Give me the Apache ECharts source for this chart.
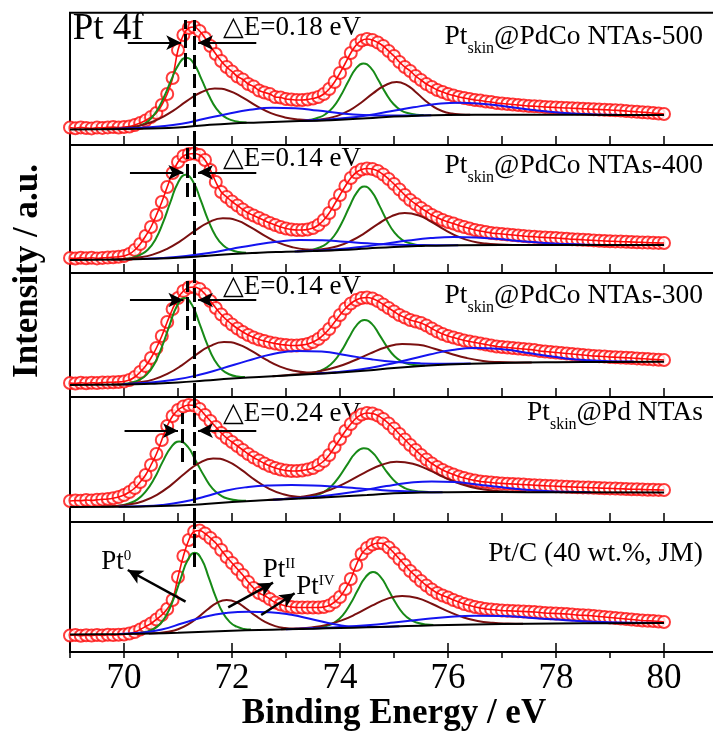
<!DOCTYPE html>
<html>
<head>
<meta charset="utf-8">
<script src="https://cdn.jsdelivr.net/npm/echarts@6/dist/echarts.min.js"></script>
<style>
html,body{margin:0;padding:0;background:#fff;}
#chart{width:713px;height:733px;}
</style>
</head>
<body>
<div id="chart"></div>
<script>
// Binding energy of every measured point (eV)
const energy = [
 69.0,69.1,69.2,69.3,69.4,69.5,69.6,69.7,69.8,69.9,
 70.0,70.1,70.2,70.3,70.4,70.5,70.6,70.7,70.8,70.9,
 71.0,71.1,71.2,71.3,71.4,71.5,71.6,71.7,71.8,71.9,
 72.0,72.1,72.2,72.3,72.4,72.5,72.6,72.7,72.8,72.9,
 73.0,73.1,73.2,73.3,73.4,73.5,73.6,73.7,73.8,73.9,
 74.0,74.1,74.2,74.3,74.4,74.5,74.6,74.7,74.8,74.9,
 75.0,75.1,75.2,75.3,75.4,75.5,75.6,75.7,75.8,75.9,
 76.0,76.1,76.2,76.3,76.4,76.5,76.6,76.7,76.8,76.9,
 77.0,77.1,77.2,77.3,77.4,77.5,77.6,77.7,77.8,77.9,
 78.0,78.1,78.2,78.3,78.4,78.5,78.6,78.7,78.8,78.9,
 79.0,79.1,79.2,79.3,79.4,79.5,79.6,79.7,79.8,79.9,
 80.0];

// Measured Pt 4f intensity (a.u., offset per panel)
const counts500 = [
 17.5,16.8,17.6,17.0,16.6,17.4,17.1,17.6,17.9,17.5,
 18.0,18.5,20.0,22.0,24.5,28.0,32.0,40.0,51.0,67.0,
 95.0,110.0,117.0,118.0,114.0,107.0,99.0,91.0,84.0,78.0,
 73.5,68.5,65.5,61.0,58.5,54.5,52.5,51.0,48.0,47.5,
 46.0,45.5,45.0,45.0,45.5,46.5,48.0,51.0,56.0,63.0,
 72.0,82.0,92.0,100.0,104.5,106.0,105.0,102.5,99.0,94.0,
 89.0,83.0,78.0,74.0,69.0,65.0,61.0,58.0,55.0,53.0,
 51.0,49.5,48.0,47.0,46.0,45.0,44.5,43.5,43.0,42.0,
 41.5,41.0,40.5,40.0,39.5,39.0,38.8,38.5,38.0,37.8,
 37.5,37.2,37.0,36.8,36.5,36.2,36.0,35.7,35.5,35.2,
 35.0,34.7,34.4,34.0,33.6,33.2,32.8,32.4,32.0,31.5,
 31.0];
const counts400 = [
 15.0,14.5,15.2,14.8,15.3,14.6,15.1,15.4,15.8,16.2,
 17.0,19.0,23.0,29.0,37.0,46.0,58.0,71.0,86.0,100.0,
 111.0,117.0,119.0,119.5,118.0,113.0,103.0,91.0,81.0,76.0,
 71.5,67.5,63.5,60.0,57.5,55.0,52.5,50.0,48.0,46.0,
 44.5,43.5,43.0,43.0,43.5,45.0,48.0,53.0,60.0,69.0,
 78.0,87.0,95.0,100.5,103.5,104.5,104.0,102.0,98.5,94.0,
 89.0,83.5,78.0,73.0,69.0,65.0,61.5,58.0,55.5,53.0,
 51.0,49.5,47.5,46.0,44.5,43.0,42.0,41.0,40.0,39.5,
 39.0,38.5,38.0,37.5,37.0,36.5,36.2,35.8,35.5,35.2,
 35.0,34.6,34.2,33.8,33.5,33.2,32.9,32.6,32.3,32.0,
 31.8,31.6,31.4,31.2,31.0,30.8,30.6,30.4,30.2,30.1,
 30.0];
const counts300 = [
 14.0,13.5,14.2,13.8,14.3,13.9,14.4,14.6,14.8,15.0,
 15.5,17.0,20.0,25.0,31.0,39.0,49.0,61.0,75.0,88.0,
 99.0,106.0,109.5,110.0,108.0,103.0,96.0,89.0,82.5,77.0,
 72.5,68.5,65.0,62.0,59.5,57.5,56.0,54.5,53.5,52.5,
 52.0,51.5,51.5,52.0,53.0,55.0,58.0,62.5,68.0,75.0,
 82.0,88.5,93.5,97.0,99.0,99.5,98.5,96.0,92.5,89.0,
 85.5,82.0,79.5,77.0,75.5,74.0,71.5,68.5,65.5,63.0,
 61.0,59.5,58.0,56.5,55.5,54.5,53.5,52.5,51.5,50.5,
 50.0,49.5,49.0,48.5,48.0,47.5,47.0,46.0,45.5,45.0,
 44.5,44.0,43.5,43.0,42.5,42.0,41.5,41.0,40.8,40.5,
 40.0,39.8,39.5,39.2,39.0,38.6,38.3,38.0,37.6,37.3,
 37.0];
const countsPd = [
 21.0,21.5,21.2,22.0,21.6,22.2,22.6,23.0,23.8,25.0,
 27.0,30.0,34.0,40.0,47.0,57.0,68.0,82.0,96.0,106.0,
 112.0,115.5,117.0,116.5,113.0,107.0,101.0,95.0,89.0,84.0,
 80.0,76.0,72.0,68.0,64.5,61.5,58.5,56.0,54.0,52.5,
 51.5,51.0,51.0,51.5,52.5,54.0,57.0,61.0,67.0,75.0,
 83.0,91.0,98.0,104.0,107.5,109.0,108.5,106.5,103.0,98.5,
 93.5,88.0,82.5,77.0,72.0,67.0,62.5,58.5,55.0,52.0,
 49.5,47.5,45.5,44.0,42.5,41.5,40.5,40.0,39.5,39.0,
 38.6,38.3,38.0,37.7,37.4,37.1,36.8,36.5,36.2,36.0,
 35.8,35.5,35.3,35.0,34.8,34.6,34.4,34.2,34.0,33.8,
 33.6,33.4,33.2,33.0,32.8,32.7,32.5,32.3,32.2,32.1,
 32.0];
const countsPtC = [
 16.5,17.0,16.2,16.8,16.4,17.0,16.6,17.2,16.9,17.3,
 17.5,18.5,20.0,22.5,25.5,28.5,32.5,37.0,43.0,52.0,
 75.0,96.0,112.0,120.5,121.5,118.5,114.0,109.0,102.0,95.0,
 89.0,83.0,77.0,70.0,64.0,59.0,56.5,53.0,49.5,47.5,
 46.0,45.0,44.5,44.5,44.5,44.5,44.5,45.0,46.5,50.0,
 55.0,63.0,73.0,87.0,98.0,104.0,107.5,109.0,108.5,104.5,
 99.0,93.0,87.0,81.0,76.0,71.0,66.5,62.5,59.0,56.5,
 54.5,52.0,50.0,48.0,46.5,45.0,44.0,43.0,42.5,42.0,
 41.5,41.2,41.0,40.7,40.5,40.2,40.0,39.5,39.0,38.7,
 38.5,38.2,38.0,37.5,37.0,36.7,36.5,36.0,35.5,35.0,
 34.5,34.0,33.5,33.0,32.5,32.0,31.5,31.2,31.0,30.5,
 30.0];

// Fitted components, [energy, intensity]: Pt0 (a: 4f7/2, b: 4f5/2), PtII, PtIV and the background
const bg500 = [[69,15.5],[69.5,15.8],[70,16],[70.5,16.6],[71,17.6],[71.5,19.8],[72,21.5],[72.5,22.5],[73,23.5],[73.5,24.3],[74,25.3],[74.5,26.8],[75,28.4],[75.5,29.4],[76,29.9],[77,30.2],[78,30.2],[79,30.1],[80,30]];
const pt0a500 = [[70.03,16.6],[70.17,17.6],[70.31,19.8],[70.45,24.1],[70.59,32.6],[70.73,46.7],[70.87,64.3],[71.01,80.4],[71.15,87.3],[71.29,81.7],[71.43,66.4],[71.57,49.7],[71.71,36.4],[71.85,28.6],[71.99,24.9],[72.13,23.1],[72.27,22.6]];
const pt0b500 = [[73.31,24.4],[73.45,25.3],[73.59,27.2],[73.73,30.8],[73.87,37.7],[74.01,49.0],[74.15,63.2],[74.29,76.2],[74.43,81.6],[74.57,77.1],[74.71,64.9],[74.85,51.6],[74.99,41.0],[75.13,34.7],[75.27,31.7],[75.41,30.3],[75.55,29.9]];
const pt2a500 = [[69.6,16.0],[69.86,16.4],[70.12,17.7],[70.38,20.6],[70.64,25.9],[70.9,33.9],[71.16,43.8],[71.42,52.5],[71.68,56.4],[71.94,54.3],[72.2,47.4],[72.46,38.9],[72.72,31.9],[72.98,27.6],[73.24,25.5],[73.5,24.8],[73.76,25.0]];
const pt2b500 = [[73.29,24.1],[73.51,24.8],[73.73,26.3],[73.95,29.1],[74.17,34.4],[74.39,42.3],[74.61,51.6],[74.83,59.5],[75.05,63.0],[75.22,60.4],[75.39,53.6],[75.56,45.3],[75.73,38.3],[75.9,33.7],[76.07,31.4],[76.24,30.5],[76.41,30.2]];
const pt4a500 = [[69.81,16.1],[70.23,16.9],[70.65,18.5],[71.07,21.3],[71.49,26.2],[71.91,31.1],[72.33,35.2],[72.75,37.2],[73.17,36.8],[73.59,34.4],[74.01,31.7],[74.43,30.0],[74.85,29.5],[75.27,29.5],[75.69,29.8]];
const pt4b500 = [[73.26,24.1],[73.68,25.2],[74.1,26.9],[74.52,29.8],[74.94,33.8],[75.36,37.7],[75.78,40.9],[76.2,42.3],[76.62,41.3],[77.04,38.8],[77.46,35.7],[77.88,33.2],[78.3,31.5],[78.72,30.6],[79.14,30.3]];

const bg400 = [[69,13],[70,13.5],[70.5,14.2],[71,15.2],[71.5,17],[72,19],[72.5,20.3],[73,21.2],[73.5,22],[74,23],[74.5,24.5],[75,26],[75.5,27],[76,27.6],[77,28],[78,28],[80,28]];
const pt0a400 = [[70.02,14.2],[70.16,15.4],[70.3,18.1],[70.44,23.2],[70.58,33.3],[70.72,50.1],[70.86,71.0],[71.0,90.3],[71.14,98.2],[71.28,91.3],[71.42,72.8],[71.56,52.7],[71.7,36.8],[71.84,27.4],[71.98,23.1],[72.12,21.0],[72.26,20.3]];
const pt0b400 = [[73.33,22.2],[73.47,23.2],[73.61,25.3],[73.75,29.3],[73.89,37.0],[74.03,49.8],[74.17,65.7],[74.31,80.4],[74.45,86.4],[74.59,81.2],[74.73,67.4],[74.87,52.3],[75.01,40.3],[75.15,33.1],[75.29,29.7],[75.43,28.1],[75.57,27.6]];
const pt2a400 = [[69.75,13.5],[70.01,14.0],[70.27,15.5],[70.53,18.4],[70.79,23.9],[71.05,32.1],[71.31,42.1],[71.57,50.7],[71.83,54.7],[72.09,52.6],[72.35,45.6],[72.61,37.2],[72.87,30.1],[73.13,25.6],[73.39,23.4],[73.65,22.8],[73.91,23.0]];
const pt2b400 = [[73.2,21.7],[73.45,22.4],[73.7,23.9],[73.95,26.7],[74.2,32.0],[74.45,39.7],[74.7,48.9],[74.95,56.7],[75.2,60.0],[75.45,57.7],[75.7,51.0],[75.95,42.9],[76.2,36.1],[76.45,31.6],[76.7,29.4],[76.95,28.5],[77.2,28.1]];
const pt4a400 = [[70.31,14.1],[70.73,15.1],[71.15,17.0],[71.57,20.0],[71.99,24.1],[72.41,28.1],[72.83,31.3],[73.25,33.0],[73.67,32.8],[74.09,31.3],[74.51,29.7],[74.93,28.5],[75.35,28.0],[75.77,27.8],[76.19,27.8]];
const pt4b400 = [[73.16,21.6],[73.58,22.5],[74.0,23.9],[74.42,26.3],[74.84,29.3],[75.26,32.4],[75.68,34.9],[76.1,36.0],[76.52,35.5],[76.94,33.9],[77.36,31.8],[77.78,30.0],[78.2,28.9],[78.62,28.3],[79.04,28.1]];

const bg300 = [[69,12],[70,12.5],[70.5,13.3],[71,14.5],[71.5,16.5],[72,18.5],[72.5,20],[73,21.5],[73.5,23],[74,24.5],[74.5,26.5],[75,29],[75.5,31],[76,32.5],[77,34],[78,34.8],[79,35.1],[80,35.3]];
const pt0a300 = [[70.0,13.2],[70.14,14.4],[70.28,17.2],[70.42,22.4],[70.56,32.8],[70.7,49.9],[70.84,71.2],[70.98,90.9],[71.12,99.0],[71.26,92.0],[71.4,73.2],[71.54,52.8],[71.68,36.5],[71.82,27.0],[71.96,22.5],[72.1,20.5],[72.24,19.9]];
const pt0b300 = [[73.33,22.9],[73.47,23.9],[73.61,25.9],[73.75,29.3],[73.89,35.8],[74.03,46.4],[74.17,59.7],[74.31,71.9],[74.45,77.0],[74.59,73.1],[74.73,62.1],[74.87,50.2],[75.01,40.7],[75.15,35.2],[75.29,32.7],[75.43,31.7],[75.57,31.6]];
const pt2a300 = [[69.77,12.5],[70.03,13.1],[70.29,14.6],[70.55,17.6],[70.81,23.3],[71.07,31.7],[71.33,42.0],[71.59,50.8],[71.85,54.9],[72.11,52.8],[72.37,45.8],[72.63,37.3],[72.89,30.4],[73.15,26.2],[73.41,24.4],[73.67,24.0],[73.93,24.4]];
const pt2b300 = [[72.75,20.8],[73.05,22.0],[73.35,23.6],[73.65,26.1],[73.95,30.2],[74.25,36.2],[74.55,43.3],[74.85,49.7],[75.15,53.0],[75.45,52.3],[75.75,48.3],[76.05,43.3],[76.35,38.9],[76.65,36.1],[76.95,34.9],[77.25,34.5],[77.55,34.5]];
const pt4a300 = [[69.98,12.8],[70.44,14.2],[70.9,16.9],[71.36,21.7],[71.82,28.6],[72.28,36.1],[72.74,42.7],[73.2,46.1],[73.66,45.4],[74.12,41.8],[74.58,37.7],[75.04,34.9],[75.5,33.6],[75.96,33.3],[76.42,33.4]];
const pt4b300 = [[73.56,23.4],[73.98,25.1],[74.4,27.8],[74.82,31.9],[75.24,37.0],[75.66,42.5],[76.08,47.0],[76.5,49.0],[76.92,48.3],[77.34,45.3],[77.76,41.7],[78.18,38.6],[78.6,36.7],[79.02,35.7],[79.44,35.4]];

const bgPd = [[69,15],[70,15.3],[70.5,15.8],[71,16.5],[71.5,18],[72,20],[72.5,21.5],[73,22.8],[73.5,24],[74,25.5],[74.5,27],[75,28.7],[75.5,29.5],[76,29.8],[77,29.9],[78,29.8],[80,29.5]];
const pt0aPd = [[69.78,15.7],[69.94,16.6],[70.09,18.6],[70.25,22.6],[70.4,30.4],[70.56,43.4],[70.71,59.6],[70.87,74.6],[71.02,80.6],[71.18,75.3],[71.33,61.0],[71.49,45.5],[71.64,33.3],[71.8,26.2],[71.95,23.0],[72.11,21.6],[72.26,21.3]];
const pt0bPd = [[73.24,23.8],[73.39,24.7],[73.54,26.5],[73.69,29.7],[73.84,35.8],[73.99,45.7],[74.14,57.9],[74.29,69.1],[74.44,73.8],[74.59,70.1],[74.74,59.8],[74.89,48.5],[75.04,39.6],[75.19,34.2],[75.34,31.6],[75.49,30.4],[75.64,30.0]];
const pt2aPd = [[69.57,15.4],[69.83,15.9],[70.09,17.4],[70.35,20.8],[70.61,27.2],[70.87,36.9],[71.13,48.7],[71.39,58.9],[71.65,63.6],[71.91,60.9],[72.17,52.3],[72.43,41.9],[72.69,33.2],[72.95,27.8],[73.21,25.3],[73.47,24.6],[73.73,24.9]];
const pt2bPd = [[72.65,22.0],[72.95,23.1],[73.25,24.8],[73.55,27.7],[73.85,32.9],[74.15,40.4],[74.45,49.1],[74.75,56.7],[75.05,60.3],[75.35,58.2],[75.65,51.9],[75.95,44.2],[76.25,37.7],[76.55,33.5],[76.85,31.3],[77.15,30.3],[77.45,30.0]];
const pt4aPd = [[69.9,15.3],[70.3,15.7],[70.7,17.0],[71.1,20.2],[71.5,25.5],[71.9,31.5],[72.3,35.0],[72.7,36.6],[73.1,37.0],[73.5,36.6],[73.9,35.4],[74.3,33.8],[74.7,32.2],[75.1,30.9],[75.5,30.1],[75.9,29.8]];
const pt4bPd = [[72.76,22.3],[73.18,23.7],[73.6,25.5],[74.02,28.2],[74.44,31.8],[74.86,35.9],[75.28,39.2],[75.7,40.6],[76.12,39.9],[76.54,37.6],[76.96,34.9],[77.38,32.5],[77.8,31.0],[78.22,30.2],[78.64,29.8]];

const bgPtC = [[69,17.5],[70,18],[70.5,18.5],[71,19.2],[71.5,20.2],[72,21.2],[72.5,22],[73,22.7],[73.5,23.3],[74,24],[74.5,24.7],[75,25.5],[75.5,26.3],[76,27],[77,28],[78,28.5],[79,28.8],[80,29]];
const pt0aPtC = [[70.27,18.9],[70.4,20.0],[70.53,22.5],[70.66,27.5],[70.79,37.2],[70.92,53.3],[71.05,73.4],[71.18,91.9],[71.31,99.3],[71.44,92.4],[71.57,74.4],[71.7,54.8],[71.83,39.2],[71.96,29.9],[72.09,25.3],[72.22,23.1],[72.35,22.4]];
const pt0bPtC = [[73.49,23.7],[73.63,24.6],[73.77,26.4],[73.91,29.9],[74.05,36.7],[74.19,47.9],[74.33,61.9],[74.47,74.7],[74.61,79.9],[74.75,75.2],[74.89,62.7],[75.03,49.2],[75.17,38.4],[75.31,32.1],[75.45,29.0],[75.59,27.5],[75.73,27.1]];
const pt2aPtC = [[70.46,18.6],[70.64,19.1],[70.82,20.3],[71.0,22.7],[71.18,27.3],[71.36,34.1],[71.54,42.2],[71.72,49.1],[71.9,52.0],[72.08,49.8],[72.26,43.5],[72.44,36.1],[72.62,29.9],[72.8,25.9],[72.98,24.0],[73.16,23.3],[73.34,23.2]];
const pt2bPtC = [[72.91,22.7],[73.19,23.4],[73.47,24.6],[73.75,27.1],[74.03,31.6],[74.31,38.3],[74.59,46.3],[74.87,53.1],[75.15,56.0],[75.43,54.0],[75.71,48.0],[75.99,40.9],[76.27,34.9],[76.55,31.0],[76.83,29.2],[77.11,28.5],[77.39,28.3]];
const pt4aPtC = [[69.9,18.0],[70.3,19.2],[70.7,22.6],[71.1,29.0],[71.5,35.3],[71.9,39.0],[72.3,40.3],[72.7,39.8],[73.1,37.2],[73.5,32.5],[73.9,27.8],[74.3,25.2],[74.7,25.1],[75.1,25.7]];
const pt4bPtC = [[73.0,22.8],[73.5,23.7],[74.0,25.0],[74.5,26.8],[75.0,29.4],[75.5,32.4],[76.0,35.0],[76.5,36.2],[77.0,36.0],[77.5,34.3],[78.0,32.4],[78.5,30.7],[79.0,29.8],[79.5,29.3],[80.0,29.1]];

// Axis ticks of the energy scale
const energyMin = 69, energyMax = 81;
const labelledTicks = [70, 72, 74, 76, 78, 80];

// Pt0 4f7/2 of Pt/C and the shifts of the skin samples
const refPeak = 71.31;
const deltaE = [0.18, 0.14, 0.14, 0.24];

const FONT = '"Liberation Serif","Times New Roman",serif';
const RED = '#ff0a0a', GREEN = '#178a17', BROWN = '#7a1010', BLUE = '#1414f0', BLACK = '#000';

// Panel frames (top to bottom) and their intensity ranges
const frames = [
  {top: 12.7, height: 132.3},
  {top: 145, height: 128},
  {top: 273, height: 124},
  {top: 397, height: 125},
  {top: 522, height: 130}
];

const panels = [
  {counts: counts500, bg: bg500, pt0: [pt0a500, pt0b500], pt2: [pt2a500, pt2b500], pt4: [pt4a500, pt4b500]},
  {counts: counts400, bg: bg400, pt0: [pt0a400, pt0b400], pt2: [pt2a400, pt2b400], pt4: [pt4a400, pt4b400]},
  {counts: counts300, bg: bg300, pt0: [pt0a300, pt0b300], pt2: [pt2a300, pt2b300], pt4: [pt4a300, pt4b300]},
  {counts: countsPd,  bg: bgPd,  pt0: [pt0aPd,  pt0bPd],  pt2: [pt2aPd,  pt2bPd],  pt4: [pt4aPd,  pt4bPd]},
  {counts: countsPtC, bg: bgPtC, pt0: [pt0aPtC, pt0bPtC], pt2: [pt2aPtC, pt2bPtC], pt4: [pt4aPtC, pt4bPtC]}
];

// Guide lines: extent of the long dashed line per panel, the short one, and the arrow level
const longGuide  = [[0, 125], [0, 128], [0, 124], [0, 125], [85, 130]];
const shortGuide = [[78, 125], [76, 125], [67, 116], [60, 109]];
const arrowLevel = [102.3, 100.7, 97, 91.3];

// Oxidation-state pointers in the Pt/C panel: [tail, tip]
const statePointers = [
  [[71.14, 50.3], [70.07, 82]],
  [[71.93, 44.7], [72.76, 69.3]],
  [[72.54, 37.0], [73.16, 58.7]]
];

const chart = echarts.init(document.getElementById('chart'));

const grids = [], xAxes = [], yAxes = [], series = [];
frames.forEach((f, i) => {
  const last = i === frames.length - 1;
  // the energy axis runs on past the right edge of the page
  grids.push({left: 70, width: 648, top: f.top, height: f.height, show: true,
    outerBoundsMode: 'none', containLabel: false,
    borderColor: BLACK, borderWidth: 2, backgroundColor: 'transparent'});
  xAxes.push({
    gridIndex: i, type: 'value', min: energyMin, max: energyMax, interval: 1,
    axisLine: {show: true, onZero: false, lineStyle: {color: BLACK, width: 2}},
    axisTick: {show: true, inside: !last, length: last ? 6 : 9, lineStyle: {color: BLACK, width: 1.5}},
    axisLabel: last ? {show: true, margin: 9, color: BLACK, fontFamily: FONT, fontSize: 35,
      formatter: v => (labelledTicks.indexOf(v) >= 0 ? String(v) : '')} : {show: false},
    splitLine: {show: false},
    name: last ? 'Binding Energy / eV' : '',
    nameLocation: 'middle', nameGap: 43,
    nameTextStyle: {color: BLACK, fontFamily: FONT, fontSize: 35, fontWeight: 'bold'}
  });
  yAxes.push({gridIndex: i, type: 'value', min: 0, max: f.height, show: false});
});
// longer ticks under the labelled energies
xAxes.push({
  gridIndex: 4, type: 'value', min: energyMin, max: energyMax, interval: 1,
  axisLine: {show: false}, axisLabel: {show: false}, splitLine: {show: false},
  axisTick: {show: true, length: 9, customValues: labelledTicks, lineStyle: {color: BLACK, width: 1.5}}
});

function comp(i, data, color, z) {
  return {type: 'line', xAxisIndex: i, yAxisIndex: i, data: data, smooth: 0.5,
    showSymbol: false, silent: true, animation: false, z: z,
    lineStyle: {color: color, width: 2}, itemStyle: {color: color}};
}

panels.forEach((p, i) => {
  const pts = energy.map((e, k) => [e, p.counts[k]]);
  series.push({type: 'scatter', xAxisIndex: i, yAxisIndex: i, data: pts, symbol: 'emptyCircle',
    symbolSize: 12, silent: true, animation: false, z: 2,
    itemStyle: {color: RED, borderColor: RED, borderWidth: 1.9}});

  // arrows belong to the envelope series
  const arrows = [];
  if (i < 4) {
    const shifted = +(refPeak - deltaE[i]).toFixed(2);
    arrows.push([{coord: [shifted - 1.06, arrowLevel[i]]}, {coord: [shifted - 0.07, arrowLevel[i]]}]);
    arrows.push([{coord: [72.45, arrowLevel[i]]}, {coord: [refPeak + 0.06, arrowLevel[i]]}]);
  } else {
    statePointers.forEach(sp => arrows.push([{coord: sp[0]}, {coord: sp[1]}]));
  }
  series.push({type: 'line', xAxisIndex: i, yAxisIndex: i, data: pts, smooth: 0.4,
    showSymbol: false, silent: true, animation: false, z: 3,
    lineStyle: {color: RED, width: 1.6}, itemStyle: {color: RED},
    markLine: {silent: true, animation: false, symbol: ['none', 'arrow'], symbolSize: [11, 15],
      label: {show: false}, lineStyle: {color: BLACK, width: i < 4 ? 2 : 2.5, type: 'solid'},
      emphasis: {disabled: true}, data: arrows}});

  p.pt0.forEach(d => series.push(comp(i, d, GREEN, 4)));
  p.pt2.forEach(d => series.push(comp(i, d, BROWN, 4)));
  p.pt4.forEach(d => series.push(comp(i, d, BLUE, 4)));

  const guides = [[{coord: [refPeak, longGuide[i][0]]}, {coord: [refPeak, longGuide[i][1]]}]];
  if (i < 4) {
    const shifted = +(refPeak - deltaE[i]).toFixed(2);
    guides.push([{coord: [shifted, shortGuide[i][0]]}, {coord: [shifted, shortGuide[i][1]]}]);
  }
  const bgSeries = comp(i, p.bg, BLACK, 5);
  bgSeries.markLine = {silent: true, animation: false, symbol: ['none', 'none'], label: {show: false},
    lineStyle: {color: BLACK, width: 3, type: [14, 5]}, emphasis: {disabled: true}, data: guides};
  series.push(bgSeries);
});

chart.setOption({
  animation: false,
  backgroundColor: '#fff',
  grid: grids, xAxis: xAxes, yAxis: yAxes, series: series
});

// ---- text annotations, anchored in data coordinates ----
const sampleNames = [
  '{m|Pt}{s|skin}{m|@PdCo NTAs-500}',
  '{m|Pt}{s|skin}{m|@PdCo NTAs-400}',
  '{m|Pt}{s|skin}{m|@PdCo NTAs-300}',
  '{m|Pt}{s|skin}{m|@Pd NTAs}',
  '{m|Pt/C (40 wt.%, JM)}'
];
const nameBaseline = [100, 99.7, 93.7, 101, 90.3];
const deltaBaseline = [108.3, 104.7, 101, 99.3];
const stateLabels = [
  {text: '{m|Pt}{u|0}', at: [69.58, 82]},
  {text: '{m|Pt}{u|II}', at: [72.57, 74]},
  {text: '{m|Pt}{u|IV}', at: [73.19, 57]}
];

const px = (i, e, v) => chart.convertToPixel({gridIndex: i}, [e, v]);
const graphics = [];

const richName = {
  m: {font: '27.5px ' + FONT, fill: BLACK, verticalAlign: 'top'},
  s: {font: '16px ' + FONT, fill: BLACK, verticalAlign: 'top', padding: [18, 0, 0, 0]}
};
sampleNames.forEach((t, i) => {
  const p = px(i, 80.72, nameBaseline[i]);
  graphics.push({type: 'text', silent: true, x: p[0], y: p[1] - 22,
    style: {text: t, rich: richName, align: 'right', verticalAlign: 'top', fill: BLACK, font: '27.5px ' + FONT}});
});

deltaE.forEach((d, i) => {
  const p = px(i, 71.83, deltaBaseline[i]);
  graphics.push({type: 'text', silent: true, x: p[0], y: p[1] - 9,
    style: {text: '\u25B3E=' + d.toFixed(2) + ' eV', font: '27px ' + FONT, fill: BLACK,
      align: 'left', verticalAlign: 'middle'}});
});

(function () {
  const p = px(0, 69.05, 103.3);
  graphics.push({type: 'text', silent: true, x: p[0], y: p[1] - 12,
    style: {text: 'Pt 4f', font: '37px ' + FONT, fill: BLACK, align: 'left', verticalAlign: 'middle'}});
})();

const richState = {
  m: {font: '27px ' + FONT, fill: BLACK, verticalAlign: 'top'},
  u: {font: '15px ' + FONT, fill: BLACK, verticalAlign: 'top'}
};
stateLabels.forEach(s => {
  const p = px(4, s.at[0], s.at[1]);
  graphics.push({type: 'text', silent: true, x: p[0], y: p[1] - 21.6,
    style: {text: s.text, rich: richState, align: 'left', verticalAlign: 'top', fill: BLACK, font: '27px ' + FONT}});
});

// vertical axis title
graphics.push({type: 'text', silent: true, x: 28, y: 271, rotation: Math.PI / 2,
  style: {text: 'Intensity / a.u.', font: 'bold 35px ' + FONT, fill: BLACK, align: 'center', verticalAlign: 'middle'}});

chart.setOption({graphic: graphics});
</script>
</body>
</html>
